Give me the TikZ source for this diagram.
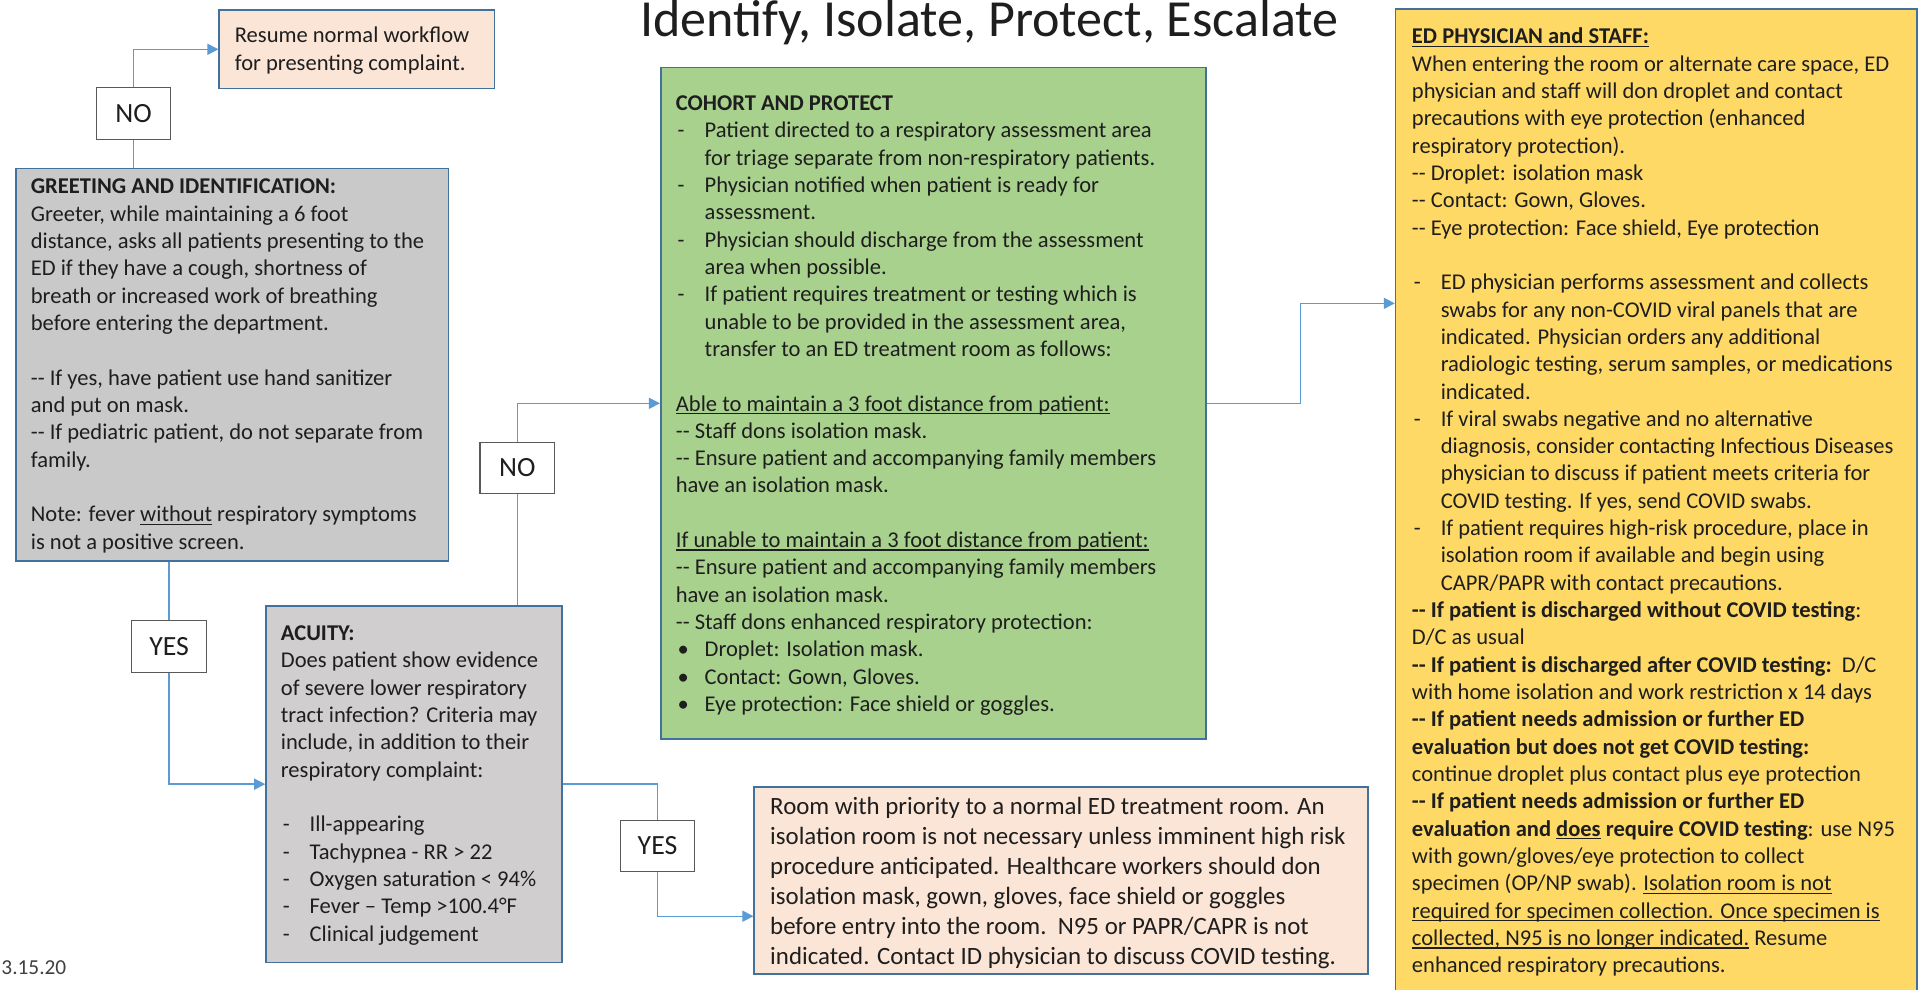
\documentclass[tikz,border=0pt]{standalone}
\usepackage{fontspec}
\setmainfont{Carlito}
\usetikzlibrary{arrows.meta,calc}

\definecolor{boxline}{HTML}{41719C}
\definecolor{wirec}{HTML}{5B9BD5}
\definecolor{lblline}{HTML}{595959}
\definecolor{ink}{HTML}{1E1E1E}
\definecolor{greyfill}{HTML}{C9C9C9}
\definecolor{acuityfill}{HTML}{D0CECE}
\definecolor{greenfill}{HTML}{A9D18E}
\definecolor{yellowfill}{HTML}{FFD966}
\definecolor{peachfill}{HTML}{FBE5D6}

% hanging list items: marker column, then continuation indent
\newlength\itemhang \setlength\itemhang{23.5pt}
\newcommand\lbul[1]{\leavevmode\makebox[\itemhang][l]{\hspace{1.5pt}#1}}
\newcommand\lcont{\leavevmode\hspace*{\itemhang}}
% underline that sits just below the baseline
\newcommand\uln[1]{\leavevmode\setbox0\hbox{#1}\rlap{\rule[-2.6pt]{\wd0}{1.1pt}}\box0\relax}
\newcommand\bodyfont{\fontsize{18.4pt}{22.3pt}\selectfont\raggedright}
\newcommand\roomfont{\fontsize{20.3pt}{24.4pt}\selectfont\raggedright}

\begin{document}
\begin{tikzpicture}[x=1pt,y=-1pt,
  box/.style={draw=boxline,line width=1.3pt,inner sep=0pt,anchor=north west},
  lbl/.style={draw=lblline,fill=white,line width=0.9pt,inner sep=0pt,
    minimum width=61pt,minimum height=42pt,text=ink,
    font=\fontsize{22.7pt}{27pt}\selectfont},
  body/.style={anchor=base west,inner sep=0pt,text=ink},
  wire/.style={draw=wirec,line width=1.1pt},
  arr/.style={wire,-{Triangle[length=9pt,width=9pt]}}]

\useasboundingbox (0,0) rectangle (1568,808);
\fill[white] (0,0) rectangle (1568,808);
\clip (0,0) rectangle (1568,808);

% heading
\node[anchor=base,inner sep=0pt,text=ink,font=\fontsize{42.5pt}{50pt}\selectfont]
  (title) at (807.5,30) {Identify, Isolate, Protect, Escalate};

% boxes
\node[box,fill=peachfill,minimum width=224.8pt,minimum height=64pt] (resume) at (178.3,7.6) {};
\node[box,fill=greyfill,minimum width=353.1pt,minimum height=320.2pt] (greet) at (12.3,136.9) {};
\node[box,fill=acuityfill,minimum width=241.5pt,minimum height=291.2pt] (acuity) at (216.5,493.8) {};
\node[box,fill=greenfill,minimum width=444.9pt,minimum height=548.3pt] (cohort) at (538.7,54.4) {};
\node[box,fill=peachfill,minimum width=501pt,minimum height=152.9pt] (room) at (615,641.6) {};
\node[box,fill=yellowfill,minimum width=425.5pt,minimum height=830pt] (ed) at (1138.5,6.8) {};

% decision labels
\node[lbl] (no1) at (109,92.5) {NO};
\node[lbl] (yes1) at (138,527.6) {YES};
\node[lbl] (no2) at (422.3,382) {NO};
\node[lbl] (yes2) at (536.7,690.4) {YES};

% connector end points on box sides
\coordinate (roomin) at ($(room.south west)!0.311!(room.north west)$);
\coordinate (edin) at ($(ed.north west)+(0,240.8)$);

% connectors
\draw[wire] (no1.south |- greet.north) -- (no1.south);
\draw[arr] (no1.north) |- (resume.west);
\draw[wire] (yes1.north |- greet.south) -- (yes1.north);
\draw[arr] (yes1.south) |- (acuity.west);
\draw[wire] (no2.south |- acuity.north) -- (no2.south);
\draw[arr] (no2.north) |- (cohort.west);
\draw[wire] (acuity.east) -| (yes2.north);
\draw[arr] (yes2.south) |- (roomin);
\draw[arr] (cohort.east) -| ($(cohort.east)!.5!(edin)$) |- (edin);

% box texts
\node[body] (resumetxt) at (191.5,35) {\parbox[t]{205pt}{\bodyfont
Resume normal workflow\\
for presenting complaint.}};

\node[body] (greettxt) at (25,158.3) {\parbox[t]{335pt}{\bodyfont
\textbf{GREETING AND IDENTIFICATION:}\\
Greeter, while maintaining a 6 foot\\
distance, asks all patients presenting to the\\
ED if they have a cough, shortness of\\
breath or increased work of breathing\\
before entering the department.\\
\mbox{}\\
-{}- If yes, have patient use hand sanitizer\\
and put on mask.\\
-{}- If pediatric patient, do not separate from\\
family.\\
\mbox{}\\
Note: fever \uln{without} respiratory symptoms\\
is not a positive screen.}};

\node[body] (acuitytxt) at (229.1,522.9) {\parbox[t]{225pt}{\bodyfont
\textbf{ACUITY:}\\
Does patient show evidence\\
of severe lower respiratory\\
tract infection? Criteria may\\
include, in addition to their\\
respiratory complaint:\\
\mbox{}\\
\lbul{-}Ill-appearing\\
\lbul{-}Tachypnea - RR > 22\\
\lbul{-}Oxygen saturation < 94\%\\
\lbul{-}Fever – Temp >100.4°F\\
\lbul{-}Clinical judgement}};

\node[body] (cohorttxt) at (551.5,90.2) {\parbox[t]{425pt}{\bodyfont
\textbf{COHORT AND PROTECT}\\
\lbul{-}Patient directed to a respiratory assessment area\\
\lcont for triage separate from non-respiratory patients.\\
\lbul{-}Physician notified when patient is ready for\\
\lcont assessment.\\
\lbul{-}Physician should discharge from the assessment\\
\lcont area when possible.\\
\lbul{-}If patient requires treatment or testing which is\\
\lcont unable to be provided in the assessment area,\\
\lcont transfer to an ED treatment room as follows:\\
\mbox{}\\
\uln{Able to maintain a 3 foot distance from patient:}\\
-{}- Staff dons isolation mask.\\
-{}- Ensure patient and accompanying family members\\
have an isolation mask.\\
\mbox{}\\
\uln{If unable to maintain a 3 foot distance from patient:}\\
-{}- Ensure patient and accompanying family members\\
have an isolation mask.\\
-{}- Staff dons enhanced respiratory protection:\\
\lbul{\textbullet}Droplet: Isolation mask.\\
\lbul{\textbullet}Contact: Gown, Gloves.\\
\lbul{\textbullet}Eye protection: Face shield or goggles.}};

\node[body] (roomtxt) at (628.5,665) {\parbox[t]{485pt}{\roomfont
Room with priority to a normal ED treatment room. An\\
isolation room is not necessary unless imminent high risk\\
procedure anticipated. Healthcare workers should don\\
isolation mask, gown, gloves, face shield or goggles\\
before entry into the room.\ \ N95 or PAPR/CAPR is not\\
indicated. Contact ID physician to discuss COVID testing.}};

\node[body] (edtxt) at (1152.3,35.8) {\parbox[t]{410pt}{\bodyfont
\uln{\textbf{ED PHYSICIAN and STAFF:}}\\
When entering the room or alternate care space, ED\\
physician and staff will don droplet and contact\\
precautions with eye protection (enhanced\\
respiratory protection).\\
-{}- Droplet: isolation mask\\
-{}- Contact: Gown, Gloves.\\
-{}- Eye protection: Face shield, Eye protection\\
\mbox{}\\
\lbul{-}ED physician performs assessment and collects\\
\lcont swabs for any non-COVID viral panels that are\\
\lcont indicated. Physician orders any additional\\
\lcont radiologic testing, serum samples, or medications\\
\lcont indicated.\\
\lbul{-}If viral swabs negative and no alternative\\
\lcont diagnosis, consider contacting Infectious Diseases\\
\lcont physician to discuss if patient meets criteria for\\
\lcont COVID testing. If yes, send COVID swabs.\\
\lbul{-}If patient requires high-risk procedure, place in\\
\lcont isolation room if available and begin using\\
\lcont CAPR/PAPR with contact precautions.\\
\textbf{-{}- If patient is discharged without COVID testing}:\\
D/C as usual\\
\textbf{-{}- If patient is discharged after COVID testing:}\ \ D/C\\
with home isolation and work restriction x 14 days\\
\textbf{-{}- If patient needs admission or further ED}\\
\textbf{evaluation but does not get COVID testing:}\\
continue droplet plus contact plus eye protection\\
\textbf{-{}- If patient needs admission or further ED}\\
\textbf{evaluation and \uln{does} require COVID testing}: use N95\\
with gown/gloves/eye protection to collect\\
specimen (OP/NP swab). \uln{Isolation room is not}\\
\uln{required for specimen collection. Once specimen is}\\
\uln{collected, N95 is no longer indicated.} Resume\\
enhanced respiratory precautions.}};

% revision date at the lower left corner
\node[anchor=base west,inner sep=0pt,text=ink!85,font=\fontsize{17.4pt}{20pt}\selectfont]
  (date) at (1,795.6) {3.15.20};
\end{tikzpicture}
\end{document}
